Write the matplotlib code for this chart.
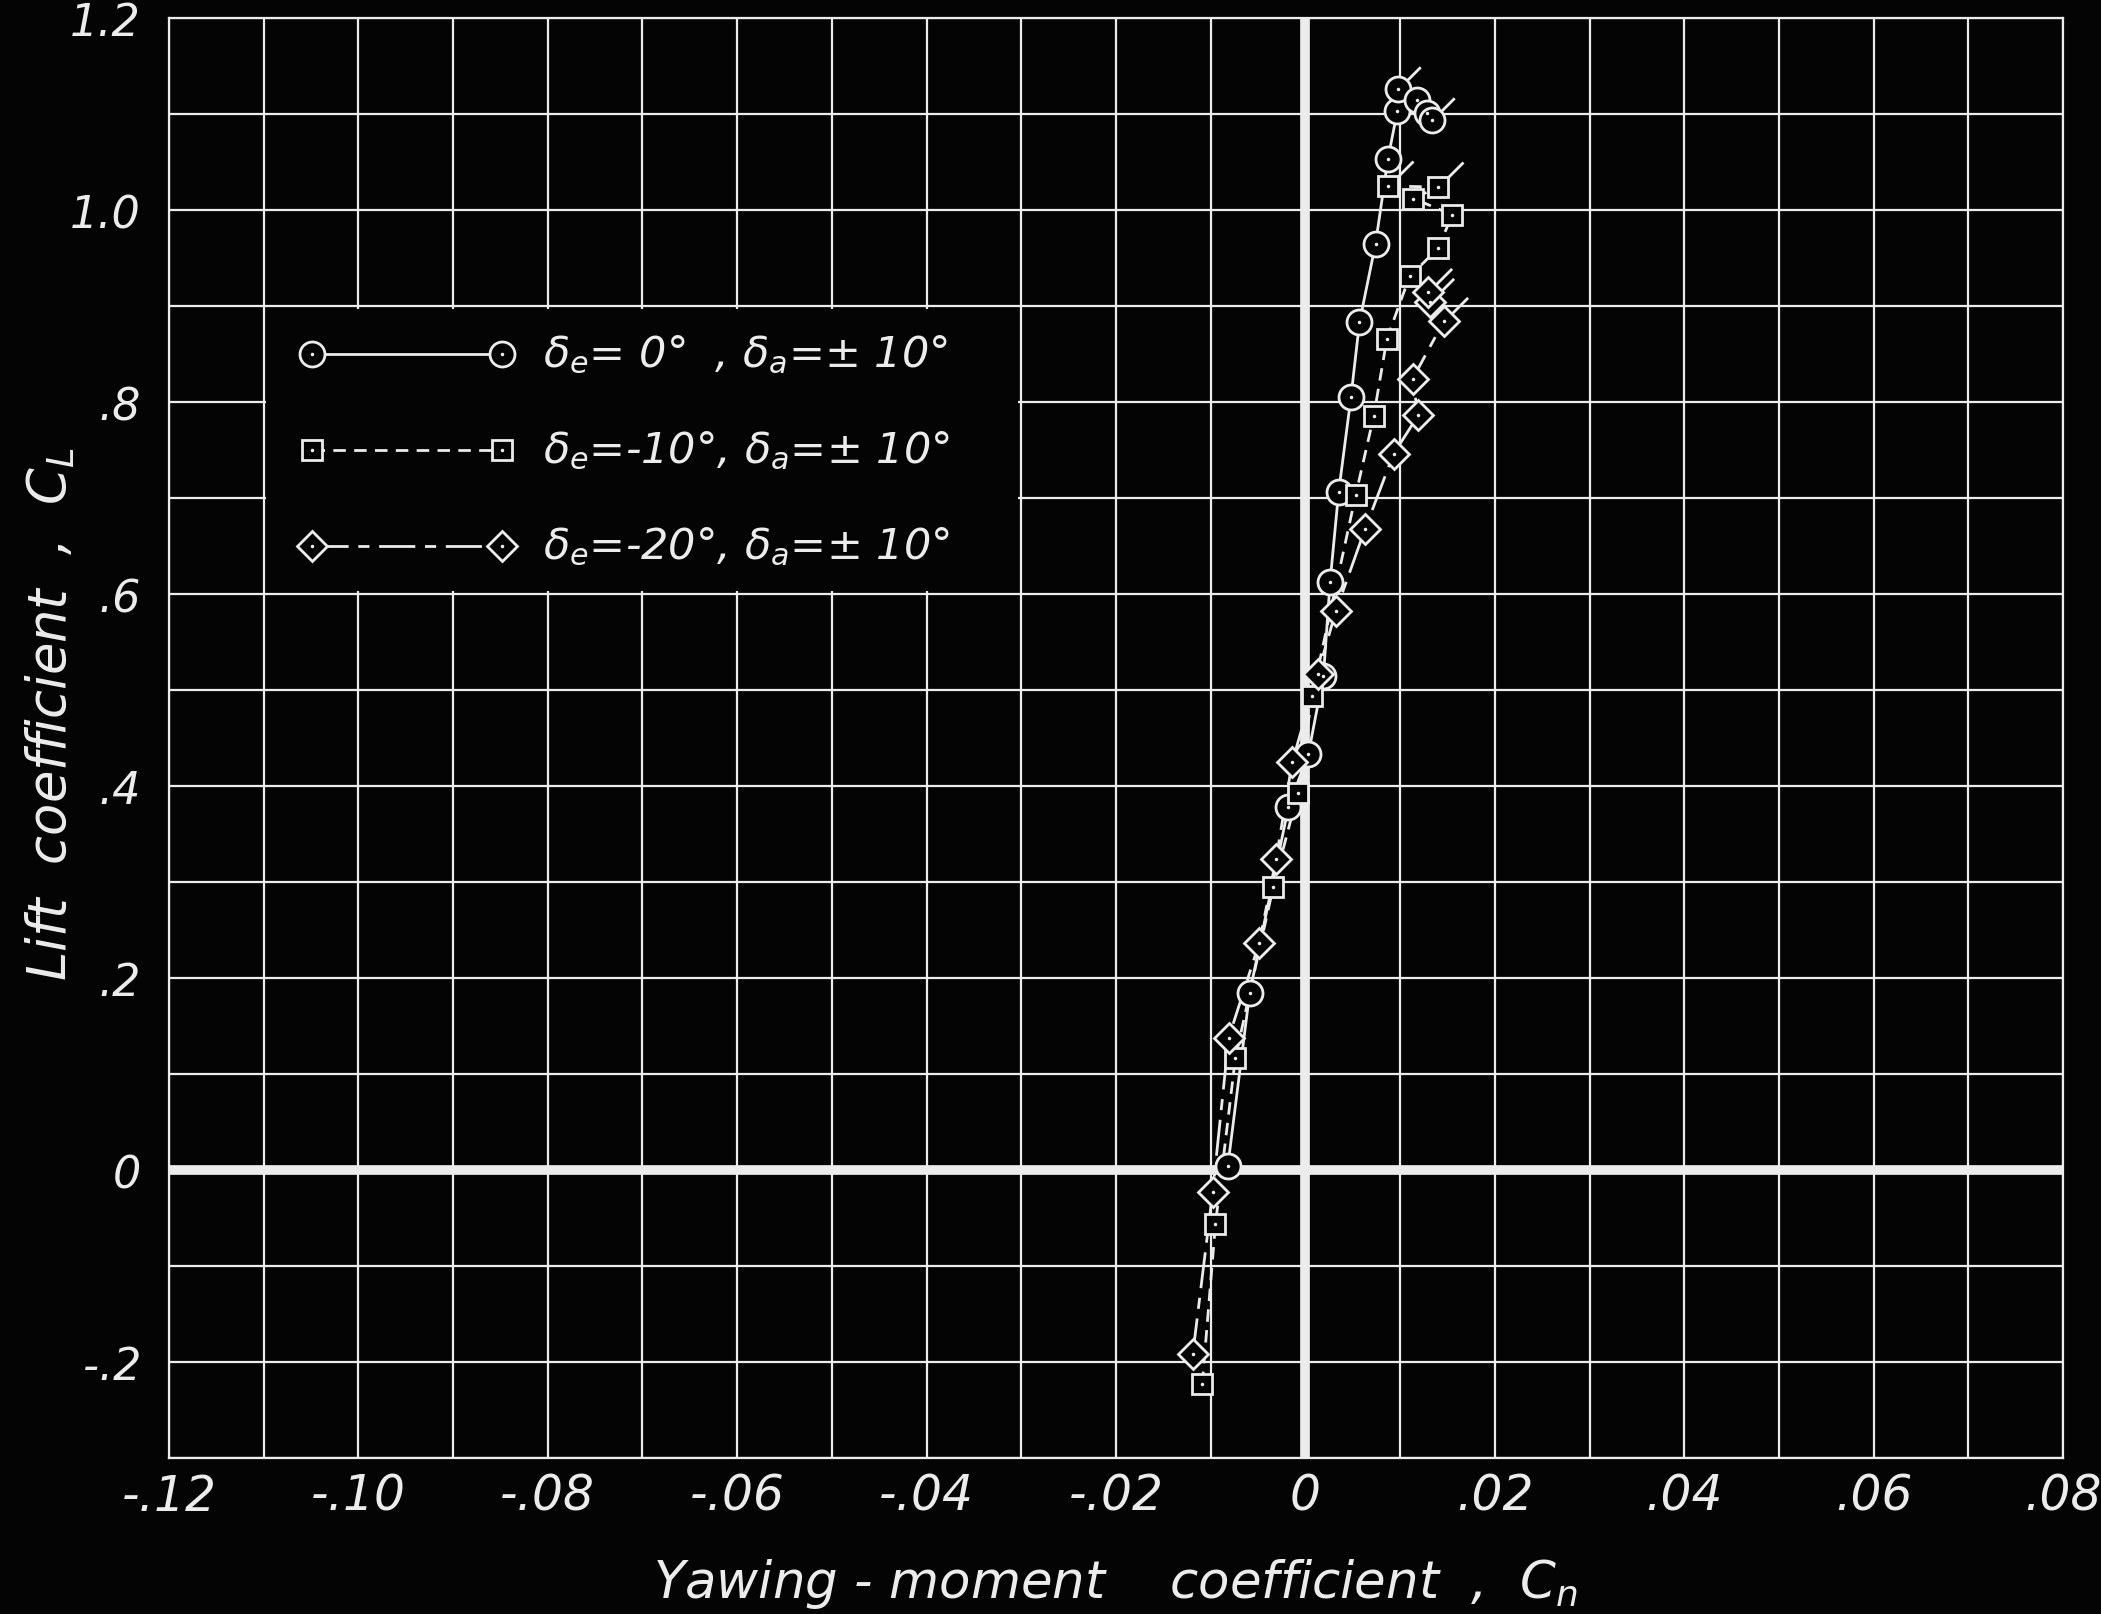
import numpy as np
import matplotlib
matplotlib.use("Agg")
import matplotlib.pyplot as plt
from matplotlib.path import Path
from matplotlib.patches import Rectangle

# lift vs yawing moment, three elevator settings
circle_cn = [-0.0082, -0.0059, -0.0018, 0.0003, 0.0019, 0.0026, 0.0035, 0.0048,
             0.0057, 0.0074, 0.0087, 0.0097, 0.0098, 0.0118, 0.0128, 0.0134]
circle_cl = [0.004, 0.184, 0.378, 0.433, 0.515, 0.613, 0.706, 0.805,
             0.883, 0.965, 1.053, 1.103, 1.126, 1.115, 1.101, 1.094]
circle_flag = [12, 15]

square_cn = [-0.0109, -0.0095, -0.0074, -0.0034, -0.0008, 0.0007, 0.0053, 0.0072,
             0.0086, 0.0110, 0.0140, 0.0155, 0.0114, 0.0140, 0.0087]
square_cl = [-0.223, -0.056, 0.117, 0.295, 0.393, 0.494, 0.703, 0.785,
             0.866, 0.931, 0.960, 0.995, 1.012, 1.024, 1.025]
square_flag = [13, 14]

diamond_cn = [-0.0119, -0.0098, -0.0081, -0.0049, -0.0031, -0.0014, 0.0013, 0.0032,
              0.0063, 0.0093, 0.0119, 0.0113, 0.0146, 0.0132, 0.0129]
diamond_cl = [-0.192, -0.023, 0.138, 0.236, 0.324, 0.425, 0.517, 0.582,
              0.668, 0.746, 0.786, 0.824, 0.884, 0.904, 0.915]
diamond_flag = [12, 13, 14]

legend_labels = [r"$\delta_e$= 0°  , $\delta_a$=± 10°",
                 r"$\delta_e$=-10°, $\delta_a$=± 10°",
                 r"$\delta_e$=-20°, $\delta_a$=± 10°"]

xticks = [-0.12, -0.10, -0.08, -0.06, -0.04, -0.02, 0, 0.02, 0.04, 0.06, 0.08]
xticklabels = ["-.12", "-.10", "-.08", "-.06", "-.04", "-.02", "0", ".02", ".04", ".06", ".08"]
yticks = [-0.2, 0, 0.2, 0.4, 0.6, 0.8, 1.0, 1.2]
yticklabels = ["-.2", "0", ".2", ".4", ".6", ".8", "1.0", "1.2"]

fg = "#ececec"
bg = "#040404"

plt.rcParams['font.family'] = ['DejaVu Sans']
plt.rcParams['font.style'] = 'italic'
plt.rcParams['mathtext.fontset'] = 'custom'
plt.rcParams['mathtext.it'] = 'DejaVu Sans:italic'
plt.rcParams['mathtext.rm'] = 'DejaVu Sans:italic'
plt.rcParams['lines.scale_dashes'] = False

fig = plt.figure(figsize=(21.01, 16.15), dpi=100, facecolor=bg)
ax = fig.add_axes([0.0804, 0.0966, 0.9016, 0.8916], facecolor=bg)

ax.set_xlim(-0.12, 0.08)
ax.set_ylim(-0.3, 1.2)
ax.set_xticks(xticks)
ax.set_xticklabels(xticklabels)
ax.set_yticks(yticks)
ax.set_yticklabels(yticklabels)
ax.set_xticks(np.arange(-0.12, 0.0801, 0.01), minor=True)
ax.set_yticks(np.arange(-0.3, 1.201, 0.1), minor=True)
ax.tick_params(which='both', length=0, colors=fg)
ax.tick_params(axis='x', labelsize=35, pad=10)
ax.tick_params(axis='y', labelsize=32, pad=20)
for lab in ax.get_xticklabels() + ax.get_yticklabels():
    lab.set_fontstyle('italic')
ax.grid(which='both', color=fg, lw=1.6)
ax.set_axisbelow(True)
for s in ax.spines.values():
    s.set_color(fg)
    s.set_linewidth(1.6)

ax.axhline(0, color=fg, lw=7, zorder=1.6)
ax.axvline(0, color=fg, lw=7, zorder=1.6)

ax.set_xlabel("Yawing - moment    coefficient  ,  $C_n$", color=fg, fontsize=37, labelpad=26)
fig.text(0.024, 0.558, "Lift  coefficient  ,  $C_L$", color=fg, fontsize=38,
         rotation=90, ha='center', va='center')

flag = Path([(0, 0), (1, 1)], [Path.MOVETO, Path.LINETO])
lw = 2.0
series = [
    (circle_cn, circle_cl, circle_flag, 'o', 18, 32, '-'),
    (square_cn, square_cl, square_flag, 's', 15, 36, (0, (9, 6))),
    (diamond_cn, diamond_cl, diamond_flag, 'D', 15, 34, (0, (26, 7, 8, 7))),
]
for cn, cl, fl, mk, ms, fms, ls in series:
    cn = np.array(cn)
    cl = np.array(cl)
    ax.plot(cn, cl, color=fg, lw=lw, linestyle=ls, zorder=3)
    ax.plot(cn[fl], cl[fl], linestyle='none', marker=flag, ms=fms,
            mec=fg, mew=lw, zorder=3.5)
    ax.plot(cn, cl, linestyle='none', marker=mk, ms=ms, mfc=bg, mec=fg,
            mew=lw, zorder=4)
    ax.plot(cn, cl, linestyle='none', marker='.', ms=3, color=fg, zorder=5)

# legend panel sits in the grid cells it covers
ax.add_patch(Rectangle((-0.1097, 0.6035), 0.0794, 0.293, facecolor=bg,
                       edgecolor='none', zorder=1.2))
row_y = [0.85, 0.75, 0.65]
for (cn, cl, fl, mk, ms, fms, ls), lab, yy in zip(series, legend_labels, row_y):
    ax.plot([-0.1049, -0.0848], [yy, yy], color=fg, lw=lw, linestyle=ls, zorder=3)
    ax.plot([-0.1049, -0.0848], [yy, yy], linestyle='none', marker=mk, ms=ms,
            mfc=bg, mec=fg, mew=lw, zorder=4)
    ax.plot([-0.1049, -0.0848], [yy, yy], linestyle='none', marker='.', ms=3,
            color=fg, zorder=5)
    ax.text(-0.0805, yy, lab, color=fg, fontsize=31, va='center', ha='left', zorder=5)

fig.savefig("out.png", dpi=100, facecolor=bg)
